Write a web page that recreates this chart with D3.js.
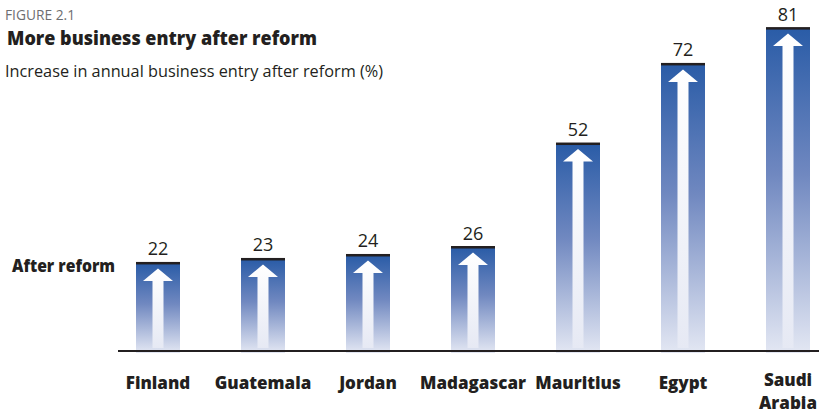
<!DOCTYPE html>
<html>
<head>
<meta charset="utf-8">
<script src="https://cdn.jsdelivr.net/npm/d3@7"></script>
<style>
  html, body { margin: 0; padding: 0; background: #fff; }
  svg { display: block; }
  text { font-family: "Open Sans", "Noto Sans", sans-serif; fill: #231f20; }
</style>
</head>
<body>
<svg id="chart" width="819" height="415"></svg>
<script>
// Countries and the increase in annual business entry after reform (%)
const categories = ["Finland", "Guatemala", "Jordan", "Madagascar", "Mauritius", "Egypt", "Saudi Arabia"];
const values = [22, 23, 24, 26, 52, 72, 81];
const rowLabel = "After reform";
const figureLabel = "FIGURE 2.1";
const titleText = "More business entry after reform";
const subtitleText = "Increase in annual business entry after reform (%)";

const svg = d3.select("#chart");

const x = d3.scaleBand()
  .domain(categories)
  .range([136, 810])
  .paddingInner(0.581)
  .paddingOuter(0);

const y = d3.scaleLinear()
  .domain([0, 81])
  .range([351, 28.6]);

const defs = svg.append("defs");

const barGrad = defs.append("linearGradient")
  .attr("id", "barGrad")
  .attr("x1", 0).attr("y1", 0).attr("x2", 0).attr("y2", 1);
barGrad.append("stop").attr("offset", "0%").attr("stop-color", "#2a5ca7");
barGrad.append("stop").attr("offset", "45%").attr("stop-color", "#7088c0");
barGrad.append("stop").attr("offset", "100%").attr("stop-color", "#e3e7f3");

const arrowGrad = defs.append("linearGradient")
  .attr("id", "arrowGrad")
  .attr("x1", 0).attr("y1", 0).attr("x2", 0).attr("y2", 1);
arrowGrad.append("stop").attr("offset", "0%").attr("stop-color", "#ffffff");
arrowGrad.append("stop").attr("offset", "100%").attr("stop-color", "#e6e9f4");

// Header texts, squeezed to a condensed width
function fitText(sel, w) {
  sel.attr("textLength", w).attr("lengthAdjust", "spacingAndGlyphs");
}

svg.append("text")
  .attr("x", 5).attr("y", 20)
  .style("font-size", "14px").style("fill", "#6d6e71")
  .text(figureLabel)
  .call(fitText, 70);

svg.append("text")
  .attr("x", 7).attr("y", 45)
  .style("font-size", "20px").style("font-weight", "800")
  .text(titleText)
  .call(fitText, 310);

svg.append("text")
  .attr("x", 5).attr("y", 77)
  .style("font-size", "16.5px")
  .text(subtitleText)
  .call(fitText, 378);

svg.append("text")
  .attr("x", 12).attr("y", 272)
  .style("font-size", "17.5px").style("font-weight", "800")
  .text(rowLabel)
  .call(fitText, 103);

const data = categories.map((c, i) => ({ name: c, value: values[i] }));

const g = svg.append("g");

const bar = g.selectAll("g.bar")
  .data(data)
  .join("g")
  .attr("class", "bar");

// gradient bar body
bar.append("rect")
  .attr("x", d => x(d.name))
  .attr("y", d => y(d.value))
  .attr("width", x.bandwidth())
  .attr("height", d => y(0) + 2 - y(d.value))
  .attr("fill", "url(#barGrad)");

// upward arrow inside each bar
bar.append("path")
  .attr("fill", "url(#arrowGrad)")
  .attr("d", d => {
    const cx = x(d.name) + x.bandwidth() / 2;
    const top = y(d.value);
    const tip = top + 5, neck = top + 17.5, bottom = y(0) - 3;
    const hw = 15, sw = 5.5;
    return `M${cx},${tip} L${cx + hw},${neck} L${cx + sw},${neck} L${cx + sw},${bottom}` +
           ` L${cx - sw},${bottom} L${cx - sw},${neck} L${cx - hw},${neck} Z`;
  });

// dark cap on top of each bar
bar.append("rect")
  .attr("x", d => x(d.name))
  .attr("y", d => y(d.value) - 1.5)
  .attr("width", x.bandwidth())
  .attr("height", 2.5)
  .attr("fill", "#231f20");

// value labels
bar.append("text")
  .attr("x", d => x(d.name) + x.bandwidth() / 2)
  .attr("y", d => y(d.value) - 8)
  .attr("text-anchor", "middle")
  .style("font-size", "18px")
  .text(d => d.value);

// baseline
svg.append("line")
  .attr("x1", 118).attr("x2", 819)
  .attr("y1", y(0)).attr("y2", y(0))
  .attr("stroke", "#231f20").attr("stroke-width", 2);

// category axis labels (two-word names wrap onto a second line)
const xAxis = svg.append("g")
  .attr("transform", `translate(0,${y(0)})`)
  .call(d3.axisBottom(x).tickSize(0).tickPadding(0).tickFormat(""));
xAxis.select(".domain").remove();

xAxis.selectAll(".tick").each(function(d) {
  const words = d.split(" ");
  const t = d3.select(this).append("text")
    .attr("text-anchor", "middle")
    .attr("y", words.length > 1 ? 35 : 38)
    .style("font-size", "17px")
    .style("font-weight", "800")
    .style("fill", "#231f20");
  words.forEach((w, i) => {
    t.append("tspan").attr("x", 0).attr("dy", i === 0 ? 0 : 23.3).text(w);
  });
});
</script>
</body>
</html>
